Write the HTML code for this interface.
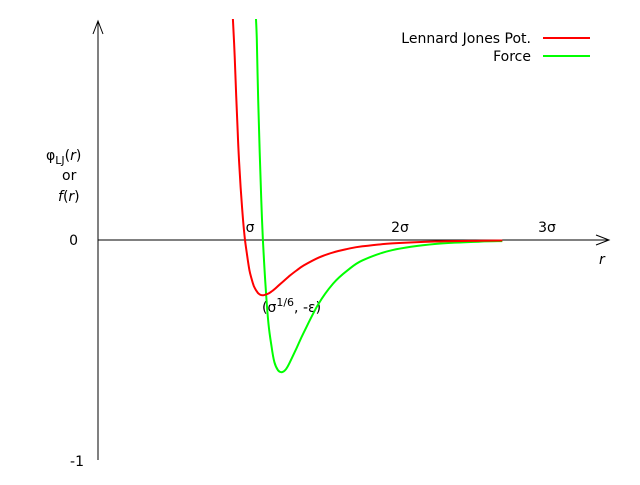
<!DOCTYPE html>
<html><head><meta charset="utf-8"><style>
body{margin:0;background:#fff;}
svg text{font-family:"DejaVu Sans","Liberation Sans",sans-serif;font-size:14px;fill:#000;}
</style></head><body>
<svg id="chart" width="640" height="480" viewBox="0 0 640 480">
<g id="axes">
<line x1="98" y1="240" x2="608" y2="240" stroke="#000" stroke-width="1"/>
<path d="M596,235 L609,240 L596,245" fill="none" stroke="#000"/>
<line x1="98" y1="460" x2="98" y2="22" stroke="#000" stroke-width="1"/>
<path d="M93,34 L98,21 L103,34" fill="none" stroke="#000"/>
<text x="78" y="245" text-anchor="end">0</text>
<text x="84" y="466" text-anchor="end">-1</text>
<text x="250" y="232" text-anchor="middle">σ</text>
<text x="400" y="232" text-anchor="middle">2σ</text>
<text x="547" y="232" text-anchor="middle">3σ</text>
<text x="599" y="264" font-style="italic">r</text>
<text x="46" y="160">φ<tspan font-size="11" dy="4">LJ</tspan><tspan dy="-4">(</tspan><tspan font-style="italic">r</tspan>)</text>
<text x="62" y="180">or</text>
<text x="58" y="201"><tspan font-style="italic">f</tspan>(<tspan font-style="italic">r</tspan>)</text>
<text x="262" y="312">(σ<tspan font-size="11" dy="-6">1/6</tspan><tspan dy="6">, -ε)</tspan></text>
</g>
<g id="series"></g>
<g id="legend">
<text x="531" y="43" text-anchor="end">Lennard Jones Pot.</text>
<line x1="543" y1="38" x2="590" y2="38" stroke="#ff0000" stroke-width="2"/>
<text x="531" y="61" text-anchor="end">Force</text>
<line x1="543" y1="56" x2="590" y2="56" stroke="#00ff00" stroke-width="2"/>
</g>
</svg>
<script>
const potR = [0.918,0.93,0.94,0.95,0.96,0.97,0.98,0.99,1.0,1.015,1.03,1.045,1.06,1.075,1.09,1.105,1.122,1.14,1.16,1.18,1.2,1.25,1.3,1.35,1.4,1.5,1.6,1.7,1.8,2.0,2.3,2.6,2.75];
const potV = [1.0,0.83,0.652,0.49,0.354,0.24,0.145,0.067,0,-0.072,-0.136,-0.176,-0.208,-0.227,-0.241,-0.248,-0.25,-0.247,-0.242,-0.233,-0.223,-0.193,-0.164,-0.138,-0.115,-0.080,-0.056,-0.040,-0.0285,-0.0154,-0.0067,-0.0032,-0.0023];
const forceR = [1.075,1.08,1.09,1.10,1.11,1.122,1.14,1.16,1.18,1.2,1.225,1.25,1.275,1.3,1.35,1.4,1.5,1.6,1.7,1.8,2.0,2.3,2.6,2.75];
const forceV = [1.0,0.91,0.632,0.397,0.19,0,-0.21,-0.38,-0.48,-0.553,-0.59,-0.598,-0.588,-0.56,-0.49,-0.418,-0.289,-0.197,-0.136,-0.092,-0.046,-0.0176,-0.0074,-0.005];
function xs(r){return 98+147*r;}
function ys(v){return 240-221*v;}
const g=document.getElementById('series');
const NS='http://www.w3.org/2000/svg';
function smoothPath(pts){
  let d='M'+pts[0][0].toFixed(1)+','+pts[0][1].toFixed(1);
  for(let i=0;i<pts.length-1;i++){
    const p0=pts[i>0?i-1:i],p1=pts[i],p2=pts[i+1],p3=pts[i+2<pts.length?i+2:i+1];
    const c1x=p1[0]+(p2[0]-p0[0])/6,c1y=p1[1]+(p2[1]-p0[1])/6;
    const c2x=p2[0]-(p3[0]-p1[0])/6,c2y=p2[1]-(p3[1]-p1[1])/6;
    d+=' C'+c1x.toFixed(1)+','+c1y.toFixed(1)+' '+c2x.toFixed(1)+','+c2y.toFixed(1)+' '+p2[0].toFixed(1)+','+p2[1].toFixed(1);
  }
  return d;
}
function draw(R,V,color,name){
  const p=document.createElementNS(NS,'path');
  p.setAttribute('d',smoothPath(R.map((r,i)=>[xs(r),ys(V[i])])));
  p.setAttribute('fill','none');p.setAttribute('stroke',color);p.setAttribute('stroke-width','2');
  p.setAttribute('stroke-linejoin','round');
  
  
  g.appendChild(p);
}
draw(forceR,forceV,'#00ff00','force-line');
draw(potR,potV,'#ff0000','potential-line');
</script>
</body></html>
